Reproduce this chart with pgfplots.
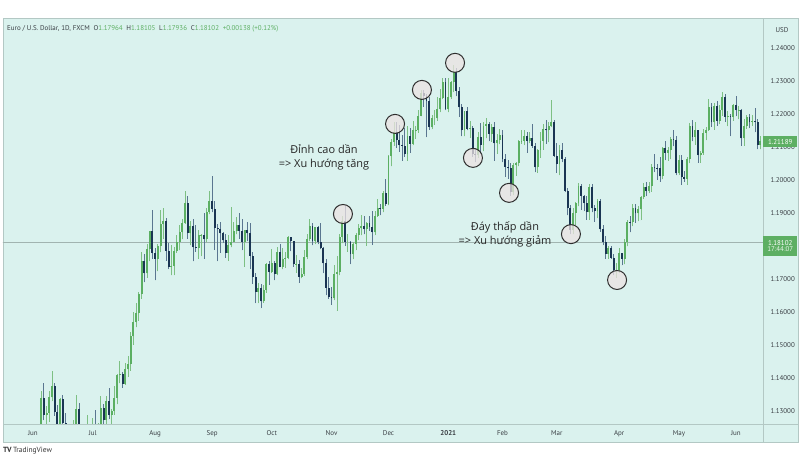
\documentclass[border=0pt]{standalone}
\usepackage{fontspec}
\setmainfont{PT Sans}
\newfontfamily\viet{Open Sans}
\usepackage{pgfplots}
\usepackage{pgfplotstable}
\pgfplotsset{compat=1.18}
\definecolor{bgc}{HTML}{DAF2EE}
\definecolor{upc}{HTML}{5BAF62}
\definecolor{upw}{HTML}{7DC083}
\definecolor{dnc}{HTML}{1A3553}
\definecolor{dnw}{HTML}{5A7690}
\definecolor{linec}{HTML}{B3C8C4}
\definecolor{txt}{HTML}{3A3F44}
\definecolor{grn}{HTML}{5DAF63}
\definecolor{circf}{HTML}{ECE2E3}
\definecolor{circd}{HTML}{2E2E2E}
\pgfplotstableread{
d o h l c
0 1.1098 1.1155 1.1092 1.1134
1 1.1134 1.1178 1.1109 1.1169
2 1.1169 1.1257 1.1152 1.1233
3 1.1233 1.1362 1.1209 1.1339
4 1.1339 1.1384 1.1272 1.1289
5 1.1289 1.1315 1.1240 1.1295
6 1.1295 1.1361 1.1268 1.1341
7 1.1341 1.1422 1.1329 1.1375
8 1.1375 1.1386 1.1285 1.1298
9 1.1298 1.1318 1.1218 1.1256
10 1.1256 1.1338 1.1168 1.1337
11 1.1337 1.1348 1.1240 1.1264
12 1.1264 1.1293 1.1223 1.1246
13 1.1246 1.1257 1.1193 1.1205
14 1.1205 1.1257 1.1168 1.1176
15 1.1176 1.1272 1.1167 1.1261
16 1.1261 1.1349 1.1241 1.1307
17 1.1307 1.1323 1.1236 1.1249
18 1.1249 1.1260 1.1181 1.1219
19 1.1219 1.1254 1.1191 1.1220
20 1.1220 1.1288 1.1188 1.1240
21 1.1240 1.1255 1.1193 1.1234
22 1.1234 1.1278 1.1200 1.1250
23 1.1250 1.1303 1.1228 1.1238
24 1.1238 1.1264 1.1218 1.1245
25 1.1245 1.1345 1.1241 1.1310
26 1.1310 1.1321 1.1256 1.1274
27 1.1274 1.1346 1.1260 1.1330
28 1.1330 1.1371 1.1275 1.1289
29 1.1289 1.1305 1.1253 1.1300
30 1.1300 1.1375 1.1288 1.1340
31 1.1340 1.1413 1.1320 1.1410
32 1.1410 1.1452 1.1384 1.1411
33 1.1411 1.1417 1.1370 1.1383
34 1.1383 1.1444 1.1380 1.1427
35 1.1427 1.1468 1.1404 1.1443
36 1.1443 1.1540 1.1422 1.1526
37 1.1526 1.1601 1.1500 1.1569
38 1.1569 1.1626 1.1553 1.1596
39 1.1596 1.1660 1.1574 1.1655
40 1.1655 1.1781 1.1640 1.1753
41 1.1753 1.1775 1.1690 1.1717
42 1.1717 1.1805 1.1704 1.1791
43 1.1791 1.1845 1.1754 1.1845
44 1.1845 1.1908 1.1762 1.1778
45 1.1778 1.1793 1.1696 1.1761
46 1.1761 1.1806 1.1723 1.1800
47 1.1800 1.1910 1.1781 1.1867
48 1.1867 1.1916 1.1822 1.1876
49 1.1876 1.1885 1.1755 1.1786
50 1.1786 1.1810 1.1730 1.1737
51 1.1737 1.1804 1.1711 1.1739
52 1.1739 1.1798 1.1712 1.1784
53 1.1784 1.1832 1.1780 1.1812
54 1.1812 1.1865 1.1787 1.1843
55 1.1843 1.1882 1.1820 1.1870
56 1.1870 1.1966 1.1868 1.1930
57 1.1930 1.1952 1.1822 1.1838
58 1.1838 1.1876 1.1802 1.1860
59 1.1860 1.1883 1.1753 1.1796
60 1.1796 1.1865 1.1783 1.1794
61 1.1794 1.1848 1.1762 1.1832
62 1.1832 1.1835 1.1769 1.1833
63 1.1833 1.1900 1.1762 1.1820
64 1.1820 1.1914 1.1811 1.1904
65 1.1904 1.1966 1.1896 1.1937
66 1.1937 1.2011 1.1902 1.1912
67 1.1912 1.1937 1.1789 1.1853
68 1.1853 1.1868 1.1754 1.1851
69 1.1851 1.1872 1.1780 1.1838
70 1.1838 1.1843 1.1809 1.1817
71 1.1817 1.1836 1.1765 1.1779
72 1.1779 1.1834 1.1755 1.1802
73 1.1802 1.1917 1.1796 1.1813
74 1.1813 1.1873 1.1812 1.1846
75 1.1846 1.1887 1.1835 1.1863
76 1.1863 1.1900 1.1822 1.1845
77 1.1845 1.1882 1.1787 1.1813
78 1.1813 1.1849 1.1737 1.1849
79 1.1849 1.1872 1.1814 1.1838
80 1.1838 1.1870 1.1730 1.1770
81 1.1770 1.1781 1.1686 1.1705
82 1.1705 1.1719 1.1627 1.1660
83 1.1660 1.1688 1.1627 1.1672
84 1.1672 1.1686 1.1612 1.1632
85 1.1632 1.1683 1.1628 1.1667
86 1.1667 1.1747 1.1658 1.1745
87 1.1745 1.1754 1.1682 1.1721
88 1.1721 1.1790 1.1719 1.1747
89 1.1747 1.1753 1.1696 1.1715
90 1.1715 1.1797 1.1712 1.1782
91 1.1782 1.1806 1.1737 1.1736
92 1.1736 1.1793 1.1729 1.1761
93 1.1761 1.1781 1.1734 1.1763
94 1.1763 1.1831 1.1760 1.1826
95 1.1826 1.1828 1.1784 1.1814
96 1.1814 1.1816 1.1737 1.1744
97 1.1744 1.1772 1.1719 1.1746
98 1.1746 1.1759 1.1689 1.1707
99 1.1707 1.1734 1.1702 1.1716
100 1.1716 1.1788 1.1710 1.1768
101 1.1768 1.1836 1.1760 1.1820
102 1.1820 1.1881 1.1815 1.1860
103 1.1860 1.1870 1.1802 1.1815
104 1.1815 1.1859 1.1806 1.1859
105 1.1859 1.1860 1.1805 1.1812
106 1.1812 1.1870 1.1790 1.1793
107 1.1793 1.1797 1.1718 1.1747
108 1.1747 1.1762 1.1650 1.1674
109 1.1674 1.1706 1.1640 1.1646
110 1.1646 1.1676 1.1622 1.1641
111 1.1641 1.1741 1.1636 1.1716
112 1.1716 1.1769 1.1603 1.1722
113 1.1722 1.1835 1.1711 1.1828
114 1.1828 1.1891 1.1808 1.1876
115 1.1876 1.1920 1.1800 1.1813
116 1.1813 1.1835 1.1783 1.1813
117 1.1813 1.1815 1.1745 1.1775
118 1.1775 1.1813 1.1760 1.1807
119 1.1807 1.1840 1.1787 1.1834
120 1.1834 1.1867 1.1817 1.1854
121 1.1854 1.1893 1.1832 1.1860
122 1.1860 1.1891 1.1835 1.1850
123 1.1850 1.1873 1.1800 1.1871
124 1.1871 1.1892 1.1846 1.1857
125 1.1857 1.1906 1.1803 1.1841
126 1.1841 1.1905 1.1832 1.1890
127 1.1890 1.1942 1.1888 1.1914
128 1.1914 1.1928 1.1893 1.1913
129 1.1913 1.1966 1.1902 1.1961
130 1.1961 1.2004 1.1922 1.1926
131 1.1926 1.2077 1.1923 1.2072
132 1.2072 1.2124 1.2041 1.2116
133 1.2116 1.2176 1.2104 1.2145
134 1.2145 1.2177 1.2097 1.2121
135 1.2121 1.2167 1.2086 1.2106
136 1.2106 1.2136 1.2059 1.2103
137 1.2103 1.2159 1.2070 1.2078
138 1.2078 1.2163 1.2058 1.2132
139 1.2132 1.2159 1.2083 1.2110
140 1.2110 1.2178 1.2105 1.2150
141 1.2150 1.2165 1.2125 1.2152
142 1.2152 1.2212 1.2143 1.2195
143 1.2195 1.2273 1.2193 1.2264
144 1.2264 1.2272 1.2222 1.2255
145 1.2255 1.2260 1.2130 1.2240
146 1.2240 1.2251 1.2152 1.2160
147 1.2160 1.2196 1.2153 1.2187
148 1.2187 1.2211 1.2167 1.2187
149 1.2187 1.2250 1.2180 1.2214
150 1.2214 1.2276 1.2206 1.2247
151 1.2247 1.2310 1.2244 1.2296
152 1.2296 1.2310 1.2212 1.2215
153 1.2215 1.2309 1.2205 1.2250
154 1.2250 1.2300 1.2245 1.2297
155 1.2297 1.2349 1.2266 1.2326
156 1.2326 1.2339 1.2254 1.2270
157 1.2270 1.2283 1.2192 1.2220
158 1.2220 1.2230 1.2132 1.2150
159 1.2150 1.2209 1.2132 1.2208
160 1.2208 1.2222 1.2150 1.2156
161 1.2156 1.2180 1.2128 1.2157
162 1.2157 1.2165 1.2071 1.2079
163 1.2079 1.2097 1.2054 1.2075
164 1.2075 1.2144 1.2068 1.2131
165 1.2131 1.2173 1.2080 1.2107
166 1.2107 1.2175 1.2087 1.2164
167 1.2164 1.2189 1.2126 1.2170
168 1.2170 1.2177 1.2117 1.2140
169 1.2140 1.2169 1.2116 1.2160
170 1.2160 1.2177 1.2058 1.2111
171 1.2111 1.2139 1.2079 1.2122
172 1.2122 1.2155 1.2109 1.2136
173 1.2136 1.2150 1.2053 1.2063
174 1.2063 1.2078 1.2010 1.2040
175 1.2040 1.2061 1.2003 1.2035
176 1.2035 1.2050 1.1952 1.1963
177 1.1963 1.2051 1.1953 1.2045
178 1.2045 1.2055 1.2013 1.2050
179 1.2050 1.2122 1.2041 1.2118
180 1.2118 1.2150 1.2110 1.2119
181 1.2119 1.2150 1.2106 1.2132
182 1.2132 1.2146 1.2083 1.2119
183 1.2119 1.2145 1.2111 1.2128
184 1.2128 1.2169 1.2097 1.2104
185 1.2104 1.2111 1.2023 1.2038
186 1.2038 1.2095 1.2022 1.2092
187 1.2092 1.2145 1.2067 1.2119
188 1.2119 1.2169 1.2091 1.2156
189 1.2156 1.2181 1.2110 1.2150
190 1.2150 1.2175 1.2114 1.2165
191 1.2165 1.2243 1.2160 1.2175
192 1.2175 1.2183 1.2071 1.2074
193 1.2074 1.2111 1.2022 1.2048
194 1.2048 1.2105 1.2015 1.2091
195 1.2091 1.2113 1.2054 1.2063
196 1.2063 1.2070 1.1963 1.1967
197 1.1967 1.1975 1.1893 1.1915
198 1.1915 1.1925 1.1836 1.1849
199 1.1849 1.1915 1.1836 1.1900
200 1.1900 1.1932 1.1864 1.1929
201 1.1929 1.1990 1.1920 1.1983
202 1.1983 1.1989 1.1910 1.1951
203 1.1951 1.1954 1.1905 1.1930
204 1.1930 1.1951 1.1880 1.1902
205 1.1902 1.1989 1.1880 1.1979
206 1.1979 1.1988 1.1902 1.1914
207 1.1914 1.1923 1.1874 1.1905
208 1.1905 1.1943 1.1884 1.1936
209 1.1936 1.1942 1.1843 1.1850
210 1.1850 1.1864 1.1802 1.1813
211 1.1813 1.1830 1.1761 1.1776
212 1.1776 1.1799 1.1761 1.1794
213 1.1794 1.1799 1.1761 1.1765
214 1.1765 1.1775 1.1712 1.1727
215 1.1727 1.1749 1.1704 1.1728
216 1.1728 1.1794 1.1719 1.1778
217 1.1778 1.1780 1.1741 1.1762
218 1.1762 1.1821 1.1744 1.1813
219 1.1813 1.1880 1.1799 1.1874
220 1.1874 1.1890 1.1841 1.1872
221 1.1872 1.1928 1.1860 1.1916
222 1.1916 1.1928 1.1870 1.1899
223 1.1899 1.1922 1.1875 1.1912
224 1.1912 1.1950 1.1878 1.1947
225 1.1947 1.1990 1.1943 1.1978
226 1.1978 1.1994 1.1951 1.1966
227 1.1966 1.1994 1.1960 1.1983
228 1.1983 1.2048 1.1965 1.2040
229 1.2040 1.2079 1.2024 1.2037
230 1.2037 1.2049 1.2000 1.2035
231 1.2035 1.2071 1.1995 1.2011
232 1.2011 1.2100 1.2002 1.2097
233 1.2097 1.2117 1.2060 1.2082
234 1.2082 1.2100 1.2058 1.2091
235 1.2091 1.2130 1.2063 1.2125
236 1.2125 1.2150 1.2102 1.2122
237 1.2122 1.2133 1.2015 1.2020
238 1.2020 1.2075 1.2015 1.2060
239 1.2060 1.2077 1.1986 1.2010
240 1.2010 1.2028 1.1995 1.2003
241 1.2003 1.2071 1.1986 1.2065
242 1.2065 1.2172 1.2051 1.2164
243 1.2164 1.2181 1.2117 1.2131
244 1.2131 1.2177 1.2107 1.2150
245 1.2150 1.2152 1.2052 1.2075
246 1.2075 1.2088 1.2052 1.2081
247 1.2081 1.2154 1.2076 1.2143
248 1.2143 1.2160 1.2121 1.2150
249 1.2150 1.2245 1.2149 1.2222
250 1.2222 1.2234 1.2162 1.2175
251 1.2175 1.2233 1.2152 1.2225
252 1.2225 1.2239 1.2164 1.2180
253 1.2180 1.2228 1.2169 1.2212
254 1.2212 1.2266 1.2195 1.2250
255 1.2250 1.2262 1.2176 1.2192
256 1.2192 1.2210 1.2163 1.2193
257 1.2193 1.2199 1.2133 1.2192
258 1.2192 1.2231 1.2179 1.2227
259 1.2227 1.2254 1.2193 1.2212
260 1.2212 1.2225 1.2184 1.2213
261 1.2213 1.2215 1.2103 1.2126
262 1.2126 1.2184 1.2104 1.2165
263 1.2165 1.2196 1.2155 1.2191
264 1.2191 1.2199 1.2157 1.2175
265 1.2175 1.2197 1.2165 1.2180
266 1.2180 1.2218 1.2144 1.2175
267 1.2175 1.2184 1.2093 1.2107
268 1.2107 1.2133 1.2093 1.2119
}\candles
\pgfplotsset{candle/.style={only marks, mark=*, mark size=0pt, mark options={draw=none, fill=none}, forget plot}}
\begin{document}
\begin{tikzpicture}[x=1bp,y=1bp]
\useasboundingbox (0,0) rectangle (800,457);
\fill[white] (0,0) rectangle (800,457);
\fill[bgc] (3,15) rectangle (798,439);
\draw[linec, line width=0.6bp] (3,15) rectangle (798,439);
\begin{axis}[
  at={(3bp,33bp)}, anchor=south west, scale only axis,
  width=760bp, height=406bp,
  xmin=-11.05, xmax=268.97, ymin=1.12606, ymax=1.24909,
  axis line style={draw=none}, major tick length=0pt,
  yticklabel pos=right,
  ytick={1.13,1.14,1.15,1.16,1.17,1.19,1.20,1.21,1.22,1.23,1.24},
  yticklabel style={/pgf/number format/fixed, /pgf/number format/fixed zerofill, /pgf/number format/precision=5, font=\fontsize{7}{8}\selectfont, text=txt, anchor=west, xshift=4bp},
  /pgf/number format/assume math mode=true,
  xtick={0,22,45,66,88,110,131,153,173,193,216,238,259},
  xticklabels={Jun,Jul,Aug,Sep,Oct,Nov,Dec,\textbf{2021},Feb,Mar,Apr,May,Jun},
  xticklabel style={font=\fontsize{7}{8}\selectfont, text=txt, yshift=-3bp},
  clip=true,
]
\addplot[line width=0.5bp, color=linec!90!black, forget plot] coordinates {(-12,1.18102) (270,1.18102)};
% wicks up
\addplot[candle, x filter/.expression={\thisrow{c}<\thisrow{o} ? nan : x}, error bars/.cd, y dir=plus, y explicit, error mark=none, error bar style={line width=0.8bp, draw=upw}]
  table[x=d, y=l, y error expr={\thisrow{h}-\thisrow{l}}] {\candles};
% wicks down
\addplot[candle, x filter/.expression={\thisrow{c}<\thisrow{o} ? x : nan}, error bars/.cd, y dir=plus, y explicit, error mark=none, error bar style={line width=0.8bp, draw=dnw}]
  table[x=d, y=l, y error expr={\thisrow{h}-\thisrow{l}}] {\candles};
% bodies up
\addplot[candle, x filter/.expression={\thisrow{c}<\thisrow{o} ? nan : x}, error bars/.cd, y dir=plus, y explicit, error mark=none, error bar style={line width=1.9bp, draw=upc}]
  table[x=d, y=o, y error expr={\thisrow{c}-\thisrow{o}}] {\candles};
% bodies down
\addplot[candle, x filter/.expression={\thisrow{c}<\thisrow{o} ? x : nan}, error bars/.cd, y dir=plus, y explicit, error mark=none, error bar style={line width=1.9bp, draw=dnc}]
  table[x=d, y=c, y error expr={\thisrow{o}-\thisrow{c}}] {\candles};
% circles
\addplot[only marks, mark=*, mark size=9.5bp, mark options={fill=circf, fill opacity=0.75, draw=circd, line width=1bp}] coordinates {
(114.2,1.1897) (133.4,1.2170) (143.3,1.2273) (155.5,1.2355) (162.1,1.2067) (175.4,1.1961) (198.2,1.1836) (215.2,1.1697)};
\node[font=\viet\fontsize{11}{14}\selectfont, text=black!85, align=center] at (axis cs:107.2,1.2068) {Đỉnh cao dần\\=> Xu hướng tăng};
\node[font=\viet\fontsize{11}{14}\selectfont, text=black!85, align=center] at (axis cs:173.9,1.1834) {Đáy thấp dần\\=> Xu hướng giảm};
\end{axis}
\draw[linec, line width=0.6bp] (763,15) -- (763,439);
\draw[linec, line width=0.6bp] (3,33) -- (798,33);
% price labels
\node[fill=grn, text=white, font=\fontsize{7}{8}\selectfont, anchor=west, minimum width=34bp, minimum height=11bp, inner sep=1bp] at (763,315) {1.21189};
\node[fill=grn, text=white, font=\fontsize{7}{8}\selectfont, anchor=west, minimum width=34bp, minimum height=20bp, inner sep=1bp, align=center] at (763,211) {1.18102\\[-1.5bp]\textcolor{white!85!grn}{17:44:07}};
\node[font=\fontsize{7}{8}\selectfont, text=txt] at (782,427) {USD};
\node[anchor=west, font=\fontsize{7}{8}\selectfont, text=txt, inner sep=0] at (7,428) {Euro / U.S. Dollar, 1D, FXCM\ \ O\textcolor{grn}{1.17964}\ \ H\textcolor{grn}{1.18105}\ \ L\textcolor{grn}{1.17936}\ \ C\textcolor{grn}{1.18102}\ \ \textcolor{grn}{+0.00138 (+0.12\%)}};
\node[anchor=west, font=\fontsize{7.5}{8}\selectfont, text=black!80, inner sep=0] at (3,6) {\textbf{TV}\,TradingView};
\end{tikzpicture}
\end{document}
